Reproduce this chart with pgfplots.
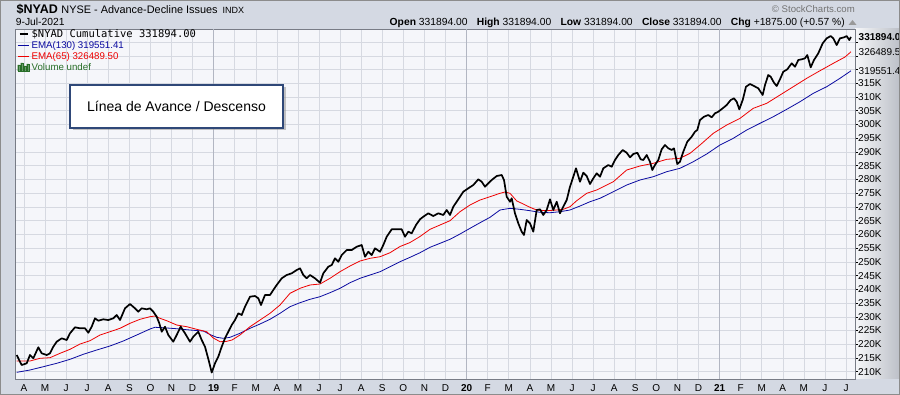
\documentclass[border=0pt]{standalone}
\usepackage{fontspec}
\setmainfont{Liberation Sans}
\newfontfamily\monofnt{DejaVu Sans Mono}
\usepackage{pgfplots}
\pgfplotsset{compat=1.18}
\usepackage{pgfplotstable}
\usetikzlibrary{shadows}
\definecolor{bgcol}{RGB}{212,217,227}
\definecolor{plotbg}{RGB}{245,246,250}
\definecolor{gridcol}{RGB}{214,217,225}
\definecolor{yeargrid}{RGB}{178,182,194}
\definecolor{emablue}{RGB}{10,10,160}
\definecolor{emared}{RGB}{238,0,0}
\definecolor{volgreen}{RGB}{40,110,40}
\definecolor{boxblue}{RGB}{47,72,120}
\definecolor{axiscol}{RGB}{120,124,134}

\pgfplotstableread{
m v
2.657 216.09
2.813 213.65
2.894 212.45
3.131 213.07
3.287 216.09
3.444 214.89
3.681 218.90
3.842 216.71
4.080 216.09
4.236 216.71
4.393 219.12
4.554 220.94
4.791 222.17
5.028 221.55
5.185 224.00
5.422 226.18
5.659 225.81
5.897 225.81
6.053 224.21
6.214 226.40
6.371 229.45
6.527 228.58
6.765 229.09
7.002 228.83
7.239 229.45
7.400 230.65
7.557 228.83
7.794 233.09
8.031 234.66
8.268 233.09
8.425 231.85
8.586 233.09
8.823 232.73
8.980 233.09
9.137 231.85
9.298 230.04
9.421 227.63
9.535 224.57
9.692 226.40
9.848 223.37
10.085 220.94
10.246 223.37
10.436 226.40
10.640 224.00
10.877 220.94
11.034 222.75
11.271 224.57
11.432 221.55
11.589 219.12
11.746 214.64
11.907 209.72
12.064 213.07
12.220 215.47
12.382 219.12
12.538 222.17
12.695 224.57
12.856 227.01
13.012 228.83
13.169 231.27
13.330 230.65
13.487 233.68
13.724 237.32
13.961 237.57
14.118 236.73
14.246 234.29
14.435 237.93
14.673 237.93
14.829 239.76
14.990 241.58
15.228 244.01
15.465 245.22
15.702 245.83
15.939 247.03
16.096 247.65
16.252 245.22
16.413 244.01
16.570 245.22
16.807 244.01
17.045 242.41
17.201 245.83
17.438 248.23
17.600 248.86
17.756 251.29
17.913 250.05
18.074 252.49
18.311 254.31
18.548 254.31
18.786 255.51
19.023 256.13
19.179 251.87
19.336 253.69
19.497 252.49
19.654 254.93
19.891 253.69
20.047 256.13
20.209 259.16
20.446 261.85
20.683 261.85
20.920 261.85
21.077 259.16
21.233 260.98
21.394 260.39
21.598 263.42
21.788 265.49
21.945 266.44
22.182 267.68
22.419 266.69
22.656 267.68
22.894 267.06
23.055 268.88
23.211 267.06
23.368 270.08
23.605 272.77
23.842 275.54
24.079 276.78
24.317 277.98
24.554 280.05
24.715 279.18
24.872 277.36
25.028 278.60
25.190 279.80
25.427 281.25
25.664 281.62
25.773 279.80
25.901 273.72
26.058 271.90
26.138 273.14
26.294 267.68
26.451 264.03
26.612 260.98
26.721 259.78
26.849 265.24
27.006 264.03
27.163 260.98
27.324 268.88
27.480 269.13
27.637 267.06
27.798 268.88
27.955 272.77
28.112 268.88
28.273 271.90
28.429 267.68
28.586 270.08
28.747 272.52
28.904 277.36
29.061 281.00
29.189 284.06
29.378 279.18
29.535 282.46
29.696 281.25
29.853 278.34
30.009 280.41
30.170 282.23
30.327 281.00
30.484 284.06
30.721 285.26
30.882 284.64
31.039 287.08
31.195 288.90
31.404 290.72
31.593 289.73
31.750 288.06
31.906 289.26
32.096 289.73
32.257 287.33
32.381 287.08
32.542 288.90
32.698 286.46
32.807 283.44
32.935 285.26
33.092 287.08
33.253 290.97
33.410 292.54
33.566 291.34
33.728 290.72
33.837 291.34
33.993 285.62
34.121 286.46
34.278 290.10
34.468 293.74
34.677 295.56
34.833 297.38
34.943 298.00
35.071 301.64
35.260 302.84
35.464 303.46
35.625 302.62
35.782 304.08
35.938 304.66
36.147 305.90
36.337 307.10
36.526 308.92
36.683 309.54
36.811 308.30
36.935 305.53
37.096 308.92
37.253 313.76
37.442 314.75
37.632 314.02
37.836 313.18
38.045 310.74
38.154 314.38
38.310 318.02
38.424 317.40
38.581 315.22
38.709 314.02
38.865 316.46
39.022 319.22
39.212 320.10
39.420 322.28
39.577 321.04
39.734 323.48
39.895 323.74
40.051 324.10
40.160 325.30
40.322 320.82
40.478 323.48
40.682 325.92
40.891 329.56
41.081 331.38
41.270 332.21
41.394 331.38
41.555 328.94
41.711 331.38
41.901 331.74
42.029 332.21
42.152 330.76
42.233 331.89
}\nyad

\pgfplotstableread{
m v
2.657 213.91
3.287 213.91
3.762 214.89
4.236 215.11
4.711 216.71
5.185 218.16
5.659 220.09
6.134 221.30
6.608 223.37
7.082 224.57
7.557 225.81
8.031 227.63
8.506 229.09
8.980 230.04
9.217 230.29
9.454 229.45
9.772 228.58
10.246 227.01
10.721 226.40
11.195 225.45
11.670 224.57
11.983 222.28
12.300 220.94
12.585 221.01
12.870 221.55
13.249 223.37
13.724 226.40
14.198 228.83
14.673 231.27
15.147 234.29
15.621 238.55
16.096 240.37
16.570 241.58
17.045 241.94
17.519 244.01
17.993 246.42
18.468 248.49
18.942 250.31
19.417 251.29
19.891 251.87
20.365 253.33
20.840 255.59
21.314 257.04
21.788 259.23
22.263 261.85
22.737 263.42
23.211 264.98
23.686 268.26
24.160 270.70
24.635 272.52
25.109 273.72
25.583 274.96
25.820 275.43
26.058 274.96
26.375 272.19
26.688 271.06
27.006 269.86
27.324 268.88
27.798 268.62
28.273 268.88
28.586 269.13
28.904 270.08
29.221 272.26
29.696 274.96
30.170 276.16
30.645 277.98
30.958 279.18
31.593 283.44
32.224 284.90
32.855 285.88
33.490 287.33
34.121 287.70
34.596 289.52
35.071 292.54
35.702 296.80
36.337 299.82
36.969 302.26
37.599 305.90
38.235 307.72
38.865 310.74
39.496 313.76
40.132 316.82
40.763 319.59
41.394 322.28
41.949 324.57
42.233 326.49
}\emasf

\pgfplotstableread{
m v
2.657 209.79
3.287 210.63
3.918 211.83
4.554 213.07
5.185 214.52
5.816 216.35
6.451 217.91
7.082 219.37
7.713 221.19
8.349 223.37
8.980 225.56
9.217 226.18
9.611 226.03
10.246 225.66
10.877 225.19
11.508 224.83
11.826 223.55
12.144 222.53
12.457 222.17
12.775 222.53
13.249 224.00
13.724 225.81
14.198 227.38
14.673 229.09
15.147 231.27
15.621 233.68
16.096 235.13
16.570 236.37
17.045 237.32
17.519 238.77
17.993 240.37
18.468 242.41
18.942 244.01
19.417 245.22
19.891 246.42
20.365 248.23
20.840 250.05
21.314 251.65
21.788 253.33
22.263 255.30
22.737 256.75
23.211 258.21
23.686 260.14
24.160 262.21
24.635 264.25
25.109 266.22
25.583 268.88
26.058 269.49
26.532 269.13
27.006 268.62
27.480 268.04
27.955 267.89
28.429 268.26
28.904 268.88
29.378 270.33
29.853 271.90
30.327 273.14
30.958 275.54
31.593 277.98
32.224 279.80
32.855 281.00
33.490 282.82
34.121 284.06
34.752 286.46
35.388 289.26
36.019 292.54
36.650 294.98
37.286 298.00
37.916 300.44
38.547 302.84
39.183 305.53
39.814 308.30
40.445 311.36
41.081 313.76
41.711 316.82
42.233 319.55
}\emasl

\begin{document}
\begin{tikzpicture}
\useasboundingbox (0,0) rectangle (900pt,395pt);
\fill[bgcol] (0,0) rectangle (900pt,395pt);
\shade[left color=white!80!bgcol, right color=bgcol!85!black!90] (855pt,16pt) rectangle (900pt,366pt);
\begin{axis}[
  at={(16pt,16pt)}, anchor=south west,
  scale only axis, width=839pt, height=349.7pt,
  xmin=2.623, xmax=42.424, ymin=207.35, ymax=334.66,
  clip=false,
  axis background/.style={fill=plotbg},
  axis line style={draw=axiscol, line width=1pt},
  grid=major,
  major grid style={draw=gridcol, line width=0.6pt},
  xtick={3,4,5,6,7,8,9,10,11,13,14,15,16,17,18,19,20,21,22,23,25,26,27,28,29,30,31,32,33,34,35,37,38,39,40,41,42},
  xticklabels={A,M,J,J,A,S,O,N,D,F,M,A,M,J,J,A,S,O,N,D,F,M,A,M,J,J,A,S,O,N,D,F,M,A,M,J,J},
  extra x ticks={12,24,36},
  extra x tick labels={\textbf{19},\textbf{20},\textbf{21}},
  extra x tick style={grid=major, major grid style={draw=yeargrid, line width=0.9pt}},
  xtick pos=bottom,
  xtick style={draw=none},
  xticklabel style={font=\fontsize{10}{12}\selectfont, yshift=1pt},
  ytick={210,215,220,225,230,235,240,245,250,255,260,265,270,275,280,285,290,295,300,305,310,315,320,325,330},
  yticklabels={210K,215K,220K,225K,230K,235K,240K,245K,250K,255K,260K,265K,270K,275K,280K,285K,290K,295K,300K,305K,310K,315K,,,},
  ytick pos=right, yticklabel pos=right,
  tick align=outside, major tick length=3pt,
  ytick style={draw=black, line width=0.6pt},
  yticklabel style={font=\fontsize{10}{12}\selectfont, inner sep=1pt, xshift=-1pt},
  legend cell align=left,
  legend style={at={(0.001,0.999)}, anchor=north west, draw=none, fill=none,
    inner sep=0pt, outer sep=0pt, row sep=0.8pt,
    nodes={inner sep=0pt, text height=7.8pt, text depth=2.4pt, anchor=base west},
    /tikz/every odd column/.append style={column sep=2pt},
    font=\fontsize{9.7}{11}\selectfont},
]
\addplot[emablue, line width=0.8pt, forget plot] table[x=m, y=v] {\emasl};
\addplot[emared, line width=0.8pt, forget plot] table[x=m, y=v] {\emasf};
\addplot[black, line width=1.7pt, line join=round, forget plot] table[x=m, y=v] {\nyad};

\addlegendimage{legend image code/.code={\draw[black, line width=2pt] (2pt,3pt) -- (10pt,3pt);}}
\addlegendentry{\monofnt\fontsize{10.5}{12}\selectfont \$NYAD Cumulative 331894.00}
\addlegendimage{legend image code/.code={\draw[emablue, line width=1.8pt] (0pt,3pt) -- (11pt,3pt);}}
\addlegendentry{\textcolor{emablue}{EMA(130) 319551.41}}
\addlegendimage{legend image code/.code={\draw[emared, line width=1.8pt] (0pt,3pt) -- (11pt,3pt);}}
\addlegendentry{\textcolor{emared}{EMA(65) 326489.50}}
\addlegendimage{legend image code/.code={\fill[volgreen] (0pt,0pt) rectangle (2pt,6pt) (3pt,0pt) rectangle (5pt,8pt) (6pt,0pt) rectangle (8pt,5pt) (9pt,0pt) rectangle (11pt,7pt);}}
\addlegendentry{\textcolor{volgreen}{Volume undef}}

% value tags on the right
\draw[emablue, fill=white, line width=0.9pt] ({rel axis cs:1,0} |- {axis cs:40,319.55}) ++(-2pt,0) -- ++(5pt,6pt) -- ++(60pt,0) -- ++(0,-12pt) -- ++(-60pt,0) -- cycle;
\node[anchor=west, inner sep=0pt, xshift=3.5pt, font=\fontsize{10}{12}\selectfont] at ({rel axis cs:1,0} |- {axis cs:40,319.55}) {319551.4};
\draw[emared, fill=white, line width=0.9pt] ({rel axis cs:1,0} |- {axis cs:40,326.49}) ++(-2pt,0) -- ++(5pt,6pt) -- ++(60pt,0) -- ++(0,-12pt) -- ++(-60pt,0) -- cycle;
\node[anchor=west, inner sep=0pt, xshift=3.5pt, font=\fontsize{10}{12}\selectfont] at ({rel axis cs:1,0} |- {axis cs:40,326.49}) {326489.5};
\draw[black, fill=white, line width=0.9pt] ({rel axis cs:1,0} |- {axis cs:40,331.894}) ++(-2pt,0) -- ++(5pt,6pt) -- ++(60pt,0) -- ++(0,-12pt) -- ++(-60pt,0) -- cycle;
\node[anchor=west, inner sep=0pt, xshift=3.5pt, font=\bfseries\fontsize{10}{12}\selectfont] at ({rel axis cs:1,0} |- {axis cs:40,331.894}) {331894.0};
\end{axis}

% header
\node[anchor=base west, inner sep=0pt] at (16.5pt,381.7pt)
  {{\bfseries\fontsize{12.5}{14}\selectfont \$NYAD}\hspace{3.5pt}{\fontsize{10.9}{13}\selectfont NYSE - Advance-Decline Issues}\hspace{5pt}{\fontsize{9}{11}\selectfont INDX}};
\node[anchor=base west, inner sep=0pt, font=\fontsize{10.3}{12}\selectfont] at (15.7pt,369pt) {9-Jul-2021};
\node[anchor=base east, inner sep=0pt, font=\fontsize{10.3}{12}\selectfont] at (845pt,369pt)
  {\textbf{Open} 331894.00\hspace{0.9em}\textbf{High} 331894.00\hspace{0.9em}\textbf{Low} 331894.00\hspace{0.9em}\textbf{Close} 331894.00\hspace{0.9em}\textbf{Chg} +1875.00 (+0.57 \%)};
\fill[gray!80] (848.5pt,370pt) -- (856.5pt,370pt) -- (852.5pt,375pt) -- cycle;
\node[anchor=base east, inner sep=0pt, text=black!55, font=\fontsize{9.6}{11}\selectfont] at (855pt,382.7pt) {\textcopyright\ StockCharts.com};

% annotation box
\node[draw=boxblue, line width=1.3pt, fill=white, minimum width=213pt, minimum height=43pt,
  drop shadow={shadow xshift=2.5pt, shadow yshift=-2.5pt, fill=black!45}, font=\fontsize{14}{16}\selectfont]
  at (176.5pt,288.5pt) {Línea de Avance / Descenso};

\draw[black!45, line width=1pt] (0.5pt,0.5pt) rectangle (899.5pt,394.5pt);
\end{tikzpicture}
\end{document}
